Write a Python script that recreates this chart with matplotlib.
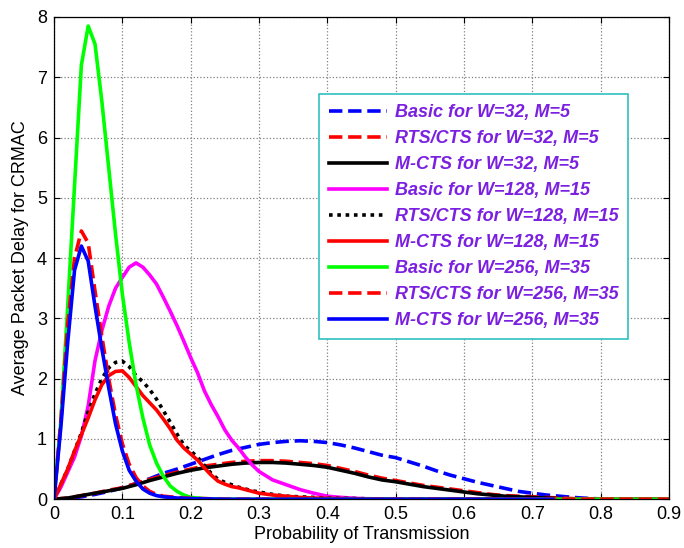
import matplotlib
matplotlib.use('Agg')
import matplotlib.pyplot as plt

plt.rcParams['font.family'] = ['Liberation Sans', 'DejaVu Sans']

# ---- data ----
# W=32, M=5 (sampled every 0.02)
x_32 = [0, .02, .04, .06, .08, .10, .12, .14, .16, .18, .20, .22, .24, .26, .28, .30,
        .32, .34, .36, .38, .40, .42, .44, .46, .48, .50, .52, .54, .56, .58, .60,
        .62, .64, .66, .68, .70, .72, .74, .76, .78, .80, .82, .90]
basic_32 = [0, .01, .04, .08, .13, .19, .26, .34, .43, .50, .58, .66, .74, .81, .86, .91,
            .94, .96, .97, .96, .94, .90, .85, .79, .73, .69, .62, .55, .47, .40, .34,
            .28, .23, .18, .13, .10, .07, .05, .03, .015, .005, 0, 0]
rts_32 = [0, .02, .06, .10, .15, .19, .26, .33, .39, .45, .50, .55, .58, .61, .63, .64,
          .64, .63, .61, .59, .56, .51, .46, .40, .35, .31, .27, .23, .20, .17, .14,
          .11, .08, .06, .05, .04, .03, .02, .01, .005, 0, 0, 0]
mcts_32 = [0, .02, .06, .10, .14, .18, .24, .31, .37, .43, .48, .52, .55, .58, .60, .61,
           .61, .60, .58, .56, .53, .48, .43, .37, .32, .29, .25, .21, .18, .15, .12,
           .09, .07, .05, .04, .03, .02, .01, 0, 0, 0, 0, 0]

# W=128, M=15
x_128 = [0, .01, .02, .03, .04, .05, .06, .07, .08, .09, .10, .11, .12, .13, .14, .15,
         .16, .17, .18, .19, .20, .21, .22, .23, .24, .25, .26, .27, .28, .29, .30,
         .32, .34, .36, .38, .40, .42, .45, .50, .90]
basic_128 = [0, .2, .45, .7, 1.05, 1.55, 2.3, 2.8, 3.2, 3.5, 3.68, 3.85, 3.92, 3.85, 3.72, 3.57,
             3.35, 3.12, 2.88, 2.62, 2.35, 2.1, 1.8, 1.57, 1.37, 1.15, .98, .85, .7, .57, .46,
             .32, .24, .16, .1, .05, .03, .01, 0, 0]
rts_128 = [0, .25, .5, .8, 1.1, 1.45, 1.75, 2.0, 2.18, 2.27, 2.29, 2.2, 2.05, 1.95, 1.82, 1.66,
           1.47, 1.28, 1.08, .9, .8, .7, .56, .43, .33, .28, .24, .2, .17, .14, .12,
           .08, .05, .04, .03, .02, .015, .01, 0, 0]
mcts_128 = [0, .25, .5, .8, 1.07, 1.35, 1.65, 1.9, 2.05, 2.12, 2.13, 2.02, 1.87, 1.72, 1.6, 1.48,
            1.33, 1.17, .98, .85, .75, .65, .52, .4, .3, .25, .21, .19, .16, .13, .1,
            .07, .05, .03, .02, .015, .01, .005, 0, 0]

# W=256, M=35
x_256 = [0, .01, .02, .03, .04, .05, .06, .07, .08, .09, .10, .11, .12, .13, .14, .15,
         .16, .17, .18, .19, .20, .22, .25, .30, .90]
basic_256 = [0, 1.3, 3.2, 5.2, 7.2, 7.85, 7.55, 6.6, 5.5, 4.4, 3.4, 2.6, 1.9, 1.35, .9, .6,
             .38, .22, .13, .07, .03, .01, 0, 0, 0]
rts_256 = [0, 1.3, 2.9, 4.0, 4.45, 4.25, 3.45, 2.7, 2.0, 1.4, .92, .58, .36, .22, .13, .08,
           .05, .04, .03, .02, .015, .01, 0, 0, 0]
x_mcts_256 = [0, .01, .02, .03, .04, .05, .06, .07, .08, .09, .10, .11, .12, .13, .14, .15,
              .16, .18, .20, .25, .73]
mcts_256 = [0, 1.2, 2.6, 3.8, 4.2, 3.95, 3.2, 2.5, 1.85, 1.25, .8, .48, .3, .17, .1, .06,
            .04, .02, .01, 0, 0]

labels = ['Basic for W=32, M=5', 'RTS/CTS for W=32, M=5', 'M-CTS for W=32, M=5',
          'Basic for W=128, M=15', 'RTS/CTS for W=128, M=15', 'M-CTS for W=128, M=15',
          'Basic for W=256, M=35', 'RTS/CTS for W=256, M=35', 'M-CTS for W=256, M=35']

xticks = [0, .1, .2, .3, .4, .5, .6, .7, .8, .9]
xtick_labels = ['0', '0.1', '0.2', '0.3', '0.4', '0.5', '0.6', '0.7', '0.8', '0.9']
yticks = [0, 1, 2, 3, 4, 5, 6, 7, 8]

fig = plt.figure(figsize=(6.84, 5.48), dpi=100)
ax = fig.add_axes([0.079, 0.089, 0.899, 0.880])

lw = 2.6
ax.plot(x_32, basic_32, color='#0000ff', ls='--', lw=lw, label=labels[0])
ax.plot(x_32, rts_32, color='#ff0000', ls='--', lw=lw, label=labels[1])
ax.plot(x_32, mcts_32, color='#000000', ls='-', lw=lw, label=labels[2])
ax.plot(x_128, basic_128, color='#ff00ff', ls='-', lw=lw, label=labels[3])
ax.plot(x_128, rts_128, color='#000000', ls=(0, (1, 1.3)), lw=lw, label=labels[4])
ax.plot(x_128, mcts_128, color='#ff0000', ls='-', lw=lw, label=labels[5])
ax.plot(x_256, basic_256, color='#00ff00', ls='-', lw=lw, label=labels[6])
ax.plot(x_256, rts_256, color='#ff0000', ls='--', lw=lw, label=labels[7])
ax.plot(x_mcts_256, mcts_256, color='#0000ff', ls='-', lw=lw, label=labels[8])

ax.set_xlim(0, 0.9)
ax.set_ylim(0, 8)
ax.set_xticks(xticks)
ax.set_xticklabels(xtick_labels)
ax.set_yticks(yticks)
ax.tick_params(direction='in', top=True, right=True, length=4, labelsize=13, pad=5)
ax.grid(True, color='#808080', ls=':', lw=0.9)
for s in ax.spines.values():
	s.set_linewidth(0.9)

ax.set_xlabel('Probability of Transmission', fontsize=13, labelpad=2)
ax.set_ylabel('Average Packet Delay for CRMAC', fontsize=13, labelpad=6)

leg = ax.legend(loc='upper left', bbox_to_anchor=(0.431, 0.840), borderaxespad=0,
                fancybox=False, framealpha=1, edgecolor='#30c0c0',
                prop={'weight': 'bold', 'style': 'italic', 'size': 13},
                handlelength=3.2, handletextpad=0.45, labelspacing=0.5, borderpad=0.55)
leg.get_frame().set_linewidth(1.2)
for t in leg.get_texts():
	t.set_color('#7b1fe0')

fig.savefig('out.png', dpi=100)
